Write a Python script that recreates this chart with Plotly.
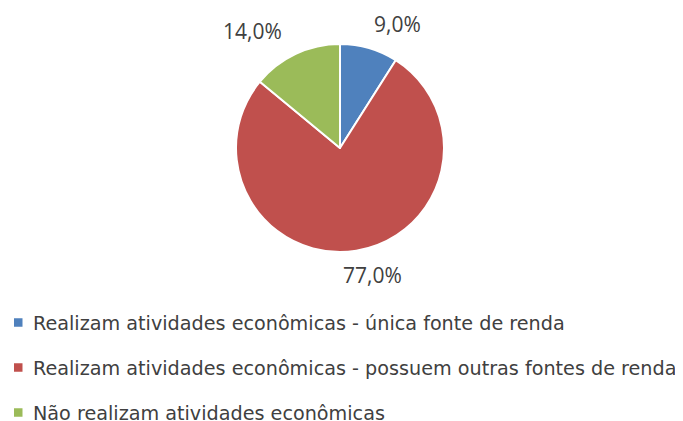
import math
import plotly.graph_objects as go

labels = [
    "Realizam atividades econômicas - única fonte de renda",
    "Realizam atividades econômicas - possuem outras fontes de renda",
    "Não realizam atividades econômicas",
]
values = [9.0, 77.0, 14.0]
colors = ["#4F81BD", "#C0504D", "#9BBB59"]

PAGE_W, PAGE_H = 683, 421
OFF = 8  # default body margin of the html page
W, H = PAGE_W - OFF, PAGE_H - OFF
font_family = "Open Sans, Noto Sans, sans-serif"
legend_family = "DejaVu Sans, Open Sans, sans-serif"
text_color = "#404040"


def fx(px):
    return (px - OFF) / W


def fy(py):
    return 1 - (py - OFF) / H


# pie geometry (page pixels)
cx, cy, r = 340, 148, 104

fig = go.Figure()
fig.add_trace(go.Pie(
    labels=labels,
    values=values,
    sort=False,
    direction="clockwise",
    rotation=0,
    marker=dict(colors=colors, line=dict(color="white", width=2)),
    textinfo="none",
    showlegend=False,
    automargin=False,
    domain=dict(x=[fx(cx - r), fx(cx + r)], y=[fy(cy + r), fy(cy - r)]),
    hoverinfo="label+percent",
))

# data labels placed around the pie at each slice's mid-angle
total = sum(values)
cum = 0.0
rx, ry = 205, 129
for v in values:
    mid = (cum + v / 2) / total * 2 * math.pi
    cum += v
    px = cx + rx * math.sin(mid)
    py = cy - ry * math.cos(mid)
    txt = f"{v / total * 100:.1f}%".replace(".", ",")
    fig.add_annotation(
        x=fx(px), y=fy(py), xref="paper", yref="paper",
        text=txt, showarrow=False, xanchor="center", yanchor="middle",
        font=dict(size=21, color=text_color, family=font_family),
    )

# legend (square swatch + text per category)
leg_x0, leg_y0, leg_dy, sw = 14, 322.5, 45, 8.5
for i, (lab, col) in enumerate(zip(labels, colors)):
    yc = leg_y0 + i * leg_dy
    fig.add_shape(
        type="rect", xref="paper", yref="paper",
        x0=fx(leg_x0), x1=fx(leg_x0 + sw),
        y0=fy(yc + sw / 2), y1=fy(yc - sw / 2),
        fillcolor=col, line=dict(width=0),
    )
    fig.add_annotation(
        x=fx(31), y=fy(yc + 1), xref="paper", yref="paper",
        text=lab, showarrow=False, xanchor="left", yanchor="middle",
        font=dict(size=19.2, color=text_color, family=legend_family),
    )

fig.update_layout(
    width=W, height=H,
    margin=dict(l=0, r=0, t=0, b=0, autoexpand=False),
    paper_bgcolor="white",
    plot_bgcolor="white",
    separators=",.",
    font=dict(family=font_family, color=text_color),
    showlegend=False,
)

fig.write_html("out.html")
